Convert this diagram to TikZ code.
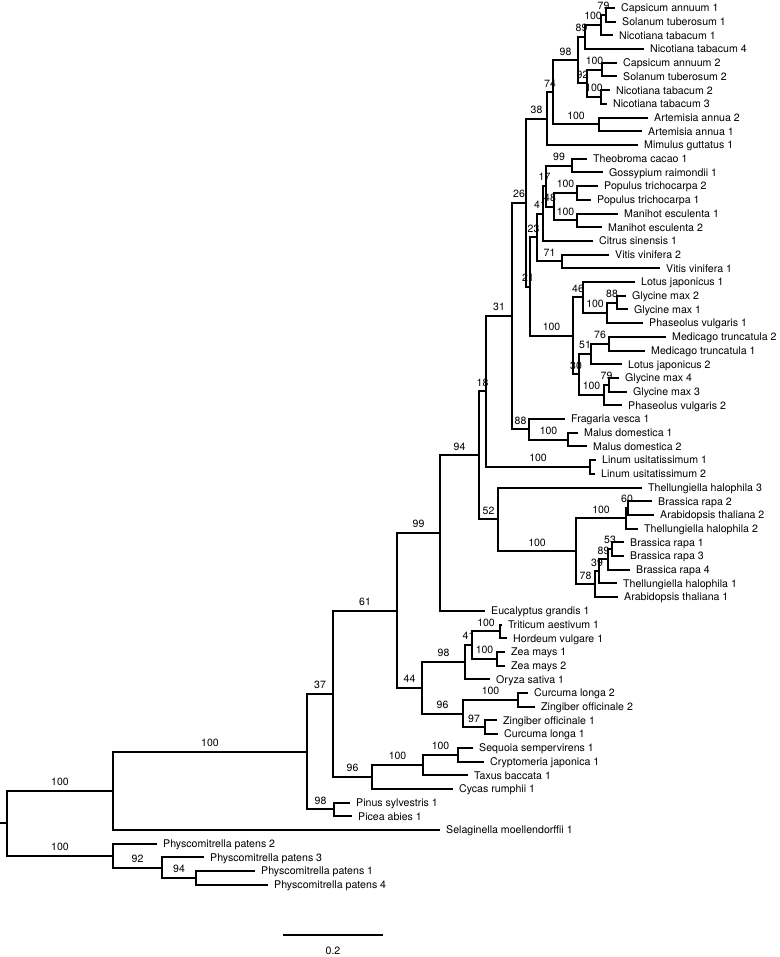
\documentclass[tikz,border=0pt]{standalone}
\usepackage{fontspec}
\setmainfont{TeX Gyre Heros}
\usepackage{tikz}

\begin{document}
\begin{tikzpicture}[x=1pt, y=-13.7pt,
    branch/.style={line width=2pt},
    leaf/.style={anchor=west, inner xsep=6pt, inner ysep=0pt,
      text height=7.7pt, text depth=0pt, font=\fontsize{10.6}{12}\selectfont},
    boot/.style={anchor=south, inner sep=0pt, yshift=5pt,
      text height=7.6pt, text depth=0pt, font=\fontsize{10.5}{12}\selectfont},
    scalelab/.style={below=11pt, inner sep=0pt, text height=7.7pt,
      text depth=0pt, font=\fontsize{10.6}{12}\selectfont}]
  \useasboundingbox (0,0.416) rectangle (779,70.27);

  % Leaves: row/tip x/taxon
  \foreach \i/\tx/\taxon in {
      1/615/Capsicum annuum 1, 2/616/Solanum tuberosum 1,
      3/613/Nicotiana tabacum 1, 4/644/Nicotiana tabacum 4,
      5/617/Capsicum annuum 2, 6/617/Solanum tuberosum 2,
      7/610/Nicotiana tabacum 2, 8/607/Nicotiana tabacum 3,
      9/648/Artemisia annua 2, 10/642/Artemisia annua 1,
      11/638/Mimulus guttatus 1, 12/587/Theobroma cacao 1,
      13/603/Gossypium raimondii 1, 14/598/Populus trichocarpa 2,
      15/591/Populus trichocarpa 1, 16/618/Manihot esculenta 1,
      17/602/Manihot esculenta 2, 18/593/Citrus sinensis 1,
      19/609/Vitis vinifera 2, 20/660/Vitis vinifera 1,
      21/635/Lotus japonicus 1, 22/626/Glycine max 2,
      23/628/Glycine max 1, 24/643/Phaseolus vulgaris 1,
      25/666/Medicago truncatula 2, 26/645/Medicago truncatula 1,
      27/622/Lotus japonicus 2, 28/619/Glycine max 4,
      29/627/Glycine max 3, 30/622/Phaseolus vulgaris 2,
      31/565/Fragaria vesca 1, 32/578/Malus domestica 1,
      33/587/Malus domestica 2, 34/596/Linum usitatissimum 1,
      35/595/Linum usitatissimum 2, 36/642/Thellungiella halophila 3,
      37/652/Brassica rapa 2, 38/654/Arabidopsis thaliana 2,
      39/638/Thellungiella halophila 2, 40/624/Brassica rapa 1,
      41/624/Brassica rapa 3, 42/630/Brassica rapa 4,
      43/617/Thellungiella halophila 1, 44/618/Arabidopsis thaliana 1,
      45/485/Eucalyptus grandis 1, 46/502/Triticum aestivum 1,
      47/507/Hordeum vulgare 1, 48/505/Zea mays 1,
      49/505/Zea mays 2, 50/490/Oryza sativa 1,
      51/528/Curcuma longa 2, 52/535/Zingiber officinale 2,
      53/497/Zingiber officinale 1, 54/498/Curcuma longa 1,
      55/473/Sequoia sempervirens 1, 56/484/Cryptomeria japonica 1,
      57/468/Taxus baccata 1, 58/453/Cycas rumphii 1,
      59/350/Pinus sylvestris 1, 60/352/Picea abies 1,
      61/440/Selaginella moellendorffii 1, 62/157/Physcomitrella patens 2,
      63/204/Physcomitrella patens 3, 64/255/Physcomitrella patens 1,
      65/268/Physcomitrella patens 4}
    \node[leaf] (l\i) at (\tx,\i) {\taxon};

  % Internal nodes: name/parent x/x/row/support
  \foreach \nm/\px/\nx/\ny/\bs in {
      n79a/601/606/1.5/79, n100a/585/601/2.25/100, n89a/578/585/3.125/89,
      n100b/587/602/5.5/100, n100c/587/601/7.5/100, n92a/578/587/6.5/92,
      n98a/553/578/4.8125/98, n100d/553/599/9.5/100, n74/547/553/7.156/74,
      n38/526/547/9.078/38,
      n99a/546/572/12.5/99, n100e/554/577/14.5/100, n100f/554/577/16.5/100,
      n48/546/554/15.5/48, n17/543/546/14/17, n41a/537/543/16/41,
      n71/537/562/19.5/71, n23/530/537/17.75/23,
      n88a/607/617/22.5/88, n100g/583/607/23.25/100, n46/573/583/22.125/46,
      n76/591/609/25.5/76, n51/579/591/26.25/51, n79b/604/609/28.5/79,
      n100i/579/604/29.25/100, n30/573/579/27.75/30, n100h/530/573/24.94/100,
      n21/526/530/21.34/21, n26/512/526/15.21/26,
      n100j/529/568/32.5/100, n88b/512/529/31.75/88, n31/486/512/23.48/31,
      n100k/486/590/34.5/100, n18/479/486/28.99/18,
      n60/626/628/37.5/60, n100l/576/626/38.25/100, n53/608/612/40.5/53,
      n89b/599/608/41.25/89, n39/595/599/42.125/39, n78/576/595/43.06/78,
      n100m/498/576/40.66/100, n52/479/498/38.33/52, n94a/440/479/33.66/94,
      n99b/397/440/39.33/99,
      n100n/472/500/46.5/100, n100o/472/497/48.5/100, n41b/465/472/47.5/41,
      n98b/422/465/48.75/98, n100p/463/518/51.5/100, n97/463/485/53.5/97,
      n96a/422/463/52.5/96, n44/397/422/50.625/44, n61/333/397/44.98/61,
      n100q/423/458/55.5/100, n100r/372/423/56.25/100, n96b/333/372/57.125/96,
      n37/307/333/51.05/37, n98c/307/334/59.5/98, n100s/113/307/55.28/100,
      n100t/7/113/58.14/100,
      n94b/162/196/64.5/94, n92b/113/162/63.75/92, n100u/7/113/62.875/100} {
    \coordinate (\nm) at (\nx,\ny);
    \node[boot] (b\nm) at ({(\px+\nx)/2},\ny) {\bs};
  }
  \coordinate (root) at (7,60.51);
  \coordinate (base) at (0,60.51);

  % Solanaceae, Asterids
  \draw[branch] (l1.west) -| (n79a) |- (l2.west);
  \draw[branch] (n79a) -| (n100a) |- (l3.west);
  \draw[branch] (n100a) -| (n89a) |- (l4.west);
  \draw[branch] (l5.west) -| (n100b) |- (l6.west);
  \draw[branch] (l7.west) -| (n100c) |- (l8.west);
  \draw[branch] (n100b) -| (n92a) |- (n100c);
  \draw[branch] (n89a) -| (n98a) |- (n92a);
  \draw[branch] (l9.west) -| (n100d) |- (l10.west);
  \draw[branch] (n98a) -| (n74) |- (n100d);
  \draw[branch] (n74) -| (n38) |- (l11.west);
  % Rosids
  \draw[branch] (l12.west) -| (n99a) |- (l13.west);
  \draw[branch] (l14.west) -| (n100e) |- (l15.west);
  \draw[branch] (l16.west) -| (n100f) |- (l17.west);
  \draw[branch] (n100e) -| (n48) |- (n100f);
  \draw[branch] (n99a) -| (n17) |- (n48);
  \draw[branch] (n17) -| (n41a) |- (l18.west);
  \draw[branch] (l19.west) -| (n71) |- (l20.west);
  \draw[branch] (n41a) -| (n23) |- (n71);
  % Legumes
  \draw[branch] (l22.west) -| (n88a) |- (l23.west);
  \draw[branch] (n88a) -| (n100g) |- (l24.west);
  \draw[branch] (l21.west) -| (n46) |- (n100g);
  \draw[branch] (l25.west) -| (n76) |- (l26.west);
  \draw[branch] (n76) -| (n51) |- (l27.west);
  \draw[branch] (l28.west) -| (n79b) |- (l29.west);
  \draw[branch] (n79b) -| (n100i) |- (l30.west);
  \draw[branch] (n51) -| (n30) |- (n100i);
  \draw[branch] (n46) -| (n100h) |- (n30);
  \draw[branch] (n23) -| (n21) |- (n100h);
  \draw[branch] (n38) -| (n26) |- (n21);
  % Rosaceae and Linum
  \draw[branch] (l32.west) -| (n100j) |- (l33.west);
  \draw[branch] (l31.west) -| (n88b) |- (n100j);
  \draw[branch] (n26) -| (n31) |- (n88b);
  \draw[branch] (l34.west) -| (n100k) |- (l35.west);
  \draw[branch] (n31) -| (n18) |- (n100k);
  % Brassicaceae
  \draw[branch] (l37.west) -| (n60) |- (l38.west);
  \draw[branch] (n60) -| (n100l) |- (l39.west);
  \draw[branch] (l40.west) -| (n53) |- (l41.west);
  \draw[branch] (n53) -| (n89b) |- (l42.west);
  \draw[branch] (n89b) -| (n39) |- (l43.west);
  \draw[branch] (n39) -| (n78) |- (l44.west);
  \draw[branch] (n100l) -| (n100m) |- (n78);
  \draw[branch] (l36.west) -| (n52) |- (n100m);
  \draw[branch] (n18) -| (n94a) |- (n52);
  \draw[branch] (n94a) -| (n99b) |- (l45.west);
  % Monocots
  \draw[branch] (l46.west) -| (n100n) |- (l47.west);
  \draw[branch] (l48.west) -| (n100o) |- (l49.west);
  \draw[branch] (n100n) -| (n41b) |- (n100o);
  \draw[branch] (n41b) -| (n98b) |- (l50.west);
  \draw[branch] (l51.west) -| (n100p) |- (l52.west);
  \draw[branch] (l53.west) -| (n97) |- (l54.west);
  \draw[branch] (n100p) -| (n96a) |- (n97);
  \draw[branch] (n98b) -| (n44) |- (n96a);
  \draw[branch] (n99b) -| (n61) |- (n44);
  % Gymnosperms
  \draw[branch] (l55.west) -| (n100q) |- (l56.west);
  \draw[branch] (n100q) -| (n100r) |- (l57.west);
  \draw[branch] (n100r) -| (n96b) |- (l58.west);
  \draw[branch] (n61) -| (n37) |- (n96b);
  \draw[branch] (l59.west) -| (n98c) |- (l60.west);
  \draw[branch] (n37) -| (n100s) |- (n98c);
  \draw[branch] (n100s) -| (n100t) |- (l61.west);
  % Mosses and root
  \draw[branch] (l64.west) -| (n94b) |- (l65.west);
  \draw[branch] (l63.west) -| (n92b) |- (n94b);
  \draw[branch] (l62.west) -| (n100u) |- (n92b);
  \draw[branch] (n100t) -| (root) |- (n100u);
  \draw[branch] (base) -- (root);

  % Scale bar
  \coordinate (sbL) at (283,68.66);
  \coordinate (sbR) at (383,68.66);
  \draw[branch] (sbL) -- node[scalelab] (sbtext) {0.2} (sbR);
\end{tikzpicture}
\end{document}
